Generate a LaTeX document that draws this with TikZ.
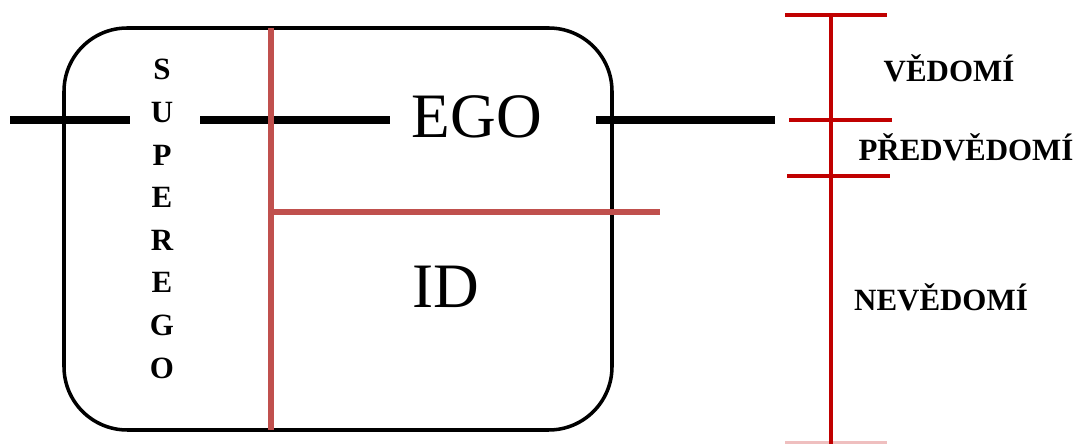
\documentclass[tikz,border=0pt]{standalone}
\usepackage{fontspec}
\setmainfont{Liberation Serif}
\usetikzlibrary{positioning}
\definecolor{idred}{RGB}{192,80,77}
\definecolor{levelred}{RGB}{192,0,0}
\tikzset{
  psyche/.style={draw=black,line width=2.5pt,rounded corners=45pt},
  egoline/.style={draw=black,line width=5.5pt},
  splitline/.style={draw=idred,line width=3.6pt},
  levelline/.style={draw=levelred,line width=2.8pt},
  bigword/.style={font=\fontsize{45}{50}\selectfont,inner sep=0pt},
  levelword/.style={font=\fontsize{22}{26}\selectfont\bfseries,inner sep=0pt},
  superword/.style={font=\fontsize{22}{30.3}\selectfont\bfseries,align=center,inner sep=0pt}
}
\begin{document}
\begin{tikzpicture}[x=0.025cm,y=-0.025cm]
  \useasboundingbox (0,0) rectangle (1085,444);
  % the mind
  \draw[psyche] (64,28) rectangle (612,430);
  \node[superword] (superego) at (162,219) {S\\U\\P\\E\\R\\E\\G\\O};
  \node[bigword] (ego) at (477,117) {EGO};
  \node[bigword] (id) at (446,287) {ID};
  % ego axis
  \coordinate (axisL) at (10,120);
  \coordinate (axisR) at (775,120);
  \draw[egoline] (axisL) -- (130,120);
  \draw[egoline] (200,120) -- (390,120);
  \draw[egoline] (596,120) -- (axisR);
  % superego / ego / id split
  \coordinate (splitT) at (271,28);
  \coordinate (splitB) at (271,430);
  \coordinate (splitM) at (271,212);
  \coordinate (splitE) at (660,212);
  \draw[splitline] (splitT) -- (splitB);
  \draw[splitline] (splitM) -- (splitE);
  % levels of consciousness
  \coordinate (scaleT) at (831,14);
  \coordinate (scaleB) at (831,444);
  \draw[levelline] (scaleT) -- (scaleB);
  \draw[levelline] (785,15) -- (887,15);
  \draw[levelline] (789,120) -- (892,120);
  \draw[levelline] (787,176) -- (890,176);
  \draw[levelline,opacity=0.25] (785,443) -- (887,443);
  \node[levelword] (vedomi) at (949,68) {VĚDOMÍ};
  \node[levelword] (predvedomi) at (966,147) {PŘEDVĚDOMÍ};
  \node[levelword] (nevedomi) at (941,297) {NEVĚDOMÍ};
\end{tikzpicture}
\end{document}
